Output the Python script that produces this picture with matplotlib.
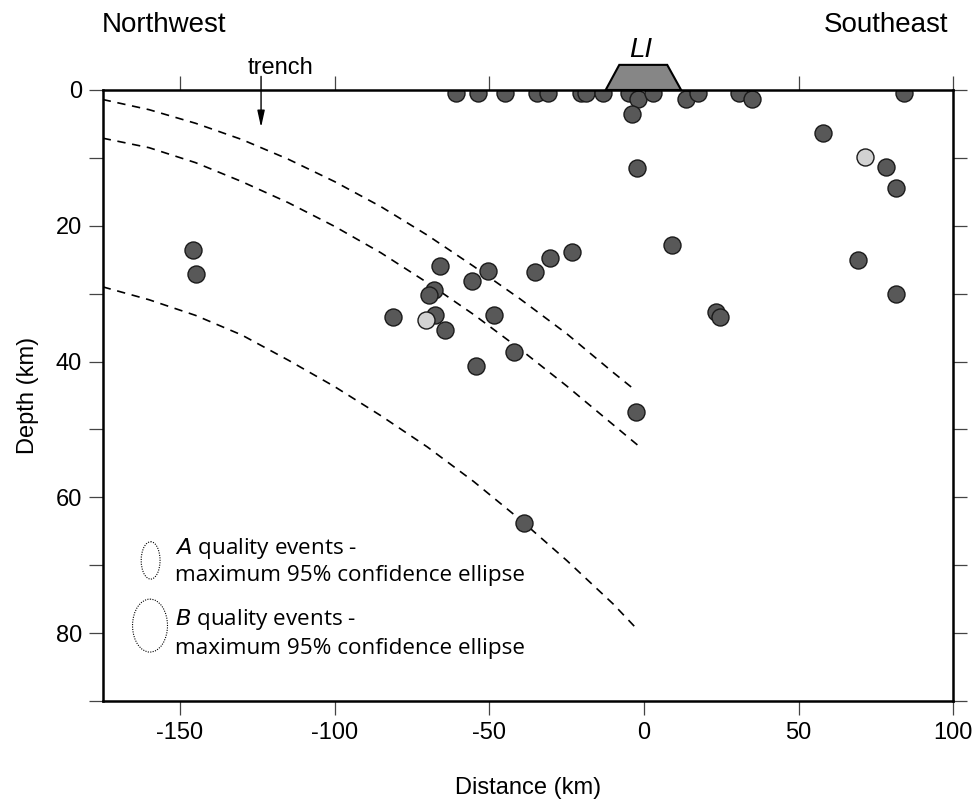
import matplotlib
matplotlib.use("Agg")
import matplotlib.pyplot as plt
from matplotlib.patches import Ellipse, Polygon

plt.rcParams['font.family'] = ['Liberation Sans', 'DejaVu Sans']

# ---- data (distance km, depth km) ----
dark_x = [-60.9, -53.7, -44.8, -34.5, -31.2, -20.5, -18.8, -13.4, -4.9, -2.1, -3.8,
          2.8, 13.7, 17.5, 30.6, 35.0, 84.1,
          -2.2, 58.0, 78.2, 81.5, -23.3, 8.9, 69.3, 81.5, 23.2, 24.5, -2.5,
          -145.8, -144.8, -66.1, -67.9, -69.5, -55.5, -50.3, -35.3, -30.3,
          -81.2, -67.7, -64.4, -48.5, -42.0, -54.4, -38.9]
dark_d = [0.5, 0.5, 0.5, 0.5, 0.5, 0.5, 0.5, 0.5, 0.5, 1.4, 3.6,
          0.5, 1.4, 0.5, 0.5, 1.4, 0.5,
          11.5, 6.3, 11.4, 14.5, 23.9, 22.9, 25.0, 30.0, 32.7, 33.4, 47.5,
          23.6, 27.1, 25.9, 29.4, 30.2, 28.2, 26.6, 26.8, 24.8,
          33.4, 33.2, 35.4, 33.2, 38.6, 40.7, 63.8]
light_x = [71.5, -70.4]
light_d = [9.8, 33.9]

# dashed slab curves
c1_x = [-175, -160, -145, -130, -115, -100, -85, -70, -55, -40, -25, -10, -3.2]
c1_d = [1.4, 2.9, 4.9, 7.3, 10.2, 13.5, 17.2, 21.4, 26.0, 30.8, 35.9, 41.6, 44.1]
c2_x = [-175, -160, -145, -130, -115, -100, -85, -70, -55, -40, -25, -10, -1.3]
c2_d = [7.1, 8.5, 10.7, 13.5, 16.6, 20.1, 24.0, 28.4, 33.1, 38.2, 43.6, 49.3, 52.6]
c3_x = [-175, -160, -145, -130, -115, -100, -85, -70, -55, -40, -25, -10, -2.3]
c3_d = [29.0, 30.9, 33.2, 36.1, 39.8, 43.7, 48.0, 52.6, 57.7, 63.3, 69.3, 75.7, 79.4]

# LI trapezoid
li_x = [-12.4, -8.0, 7.5, 12.0]
li_d = [0.0, -3.7, -3.7, 0.0]

# legend ellipses (center x, center depth, width km, height km)
ellA = (-159.5, 69.3, 6.1, 5.5)
ellB = (-159.7, 78.9, 11.3, 7.8)

x_ticks = [-150, -100, -50, 0, 50, 100]
y_ticks = [0, 10, 20, 30, 40, 50, 60, 70, 80, 90]
y_labels = ['0', '', '20', '', '40', '', '60', '', '80', '']

fig = plt.figure(figsize=(9.76, 8.02), dpi=100)
ax = fig.add_axes([0.1052, 0.126, 0.8716, 0.7618])
ax.set_xlim(-175, 100)
ax.set_ylim(90, 0)

for cx, cd in [(c1_x, c1_d), (c2_x, c2_d), (c3_x, c3_d)]:
    ax.plot(cx, cd, color='black', lw=1.2, linestyle=(0, (5, 4)), zorder=2)

ax.scatter(dark_x, dark_d, s=150, facecolor='#585858', edgecolor='#1a1a1a',
           linewidth=1.0, zorder=3)
ax.scatter(light_x, light_d, s=150, facecolor='#d2d2d2', edgecolor='#1a1a1a',
           linewidth=1.0, zorder=3)

poly = Polygon(list(zip(li_x, li_d)), closed=True, facecolor='#868686',
               edgecolor='black', lw=1.5, clip_on=False, zorder=5)
ax.add_patch(poly)
ax.text(-1, -4.9, 'LI', style='italic', fontsize=20, ha='center', va='baseline')

# trench arrow
ax.annotate('', xy=(-123.8, 5.5), xytext=(-123.8, -2.0),
            arrowprops=dict(arrowstyle='-|>,head_length=1.0,head_width=0.22',
                            color='black', lw=1.0, shrinkA=0, shrinkB=0),
            annotation_clip=False)
ax.text(-117.5, -3.3, 'trench', fontsize=17, ha='center', va='center')

for (ex, ed, ew, eh) in [ellA, ellB]:
    ax.add_patch(Ellipse((ex, ed), ew, eh, facecolor='none', edgecolor='black',
                         lw=0.8, linestyle=(0, (1, 1.2))))

lf = ['Open Sans', 'DejaVu Sans']
fs_leg = 16.2
tx = -151.5
ax.text(tx, 67.6, r'$\it{A}$' + ' quality events -', fontsize=fs_leg, family=lf,
        ha='left', va='center')
ax.text(tx, 71.5, 'maximum 95% confidence ellipse', fontsize=fs_leg, family=lf,
        ha='left', va='center')
ax.text(tx, 78.0, r'$\it{B}$' + ' quality events -', fontsize=fs_leg, family=lf,
        ha='left', va='center')
ax.text(tx, 82.3, 'maximum 95% confidence ellipse', fontsize=fs_leg, family=lf,
        ha='left', va='center')

ax.set_xticks(x_ticks)
ax.set_xticklabels([str(v) for v in x_ticks])
ax.set_yticks(y_ticks)
ax.set_yticklabels(y_labels)
ax.tick_params(direction='out', length=10, width=0.9, color='#444444',
               top=True, right=True, labeltop=False, labelright=False,
               labelsize=17, pad=5)
for sp in ax.spines.values():
    sp.set_linewidth(1.8)
    sp.set_zorder(4)

ax.set_xlabel('Distance (km)', fontsize=17, labelpad=24)
ax.set_ylabel('Depth (km)', fontsize=17, labelpad=12)

fig.text(101.7 / 976, 1 - 32.3 / 802, 'Northwest', fontsize=20, ha='left', va='baseline')
fig.text(948 / 976, 1 - 32.3 / 802, 'Southeast', fontsize=20, ha='right', va='baseline')

fig.savefig('out.png', dpi=100)
